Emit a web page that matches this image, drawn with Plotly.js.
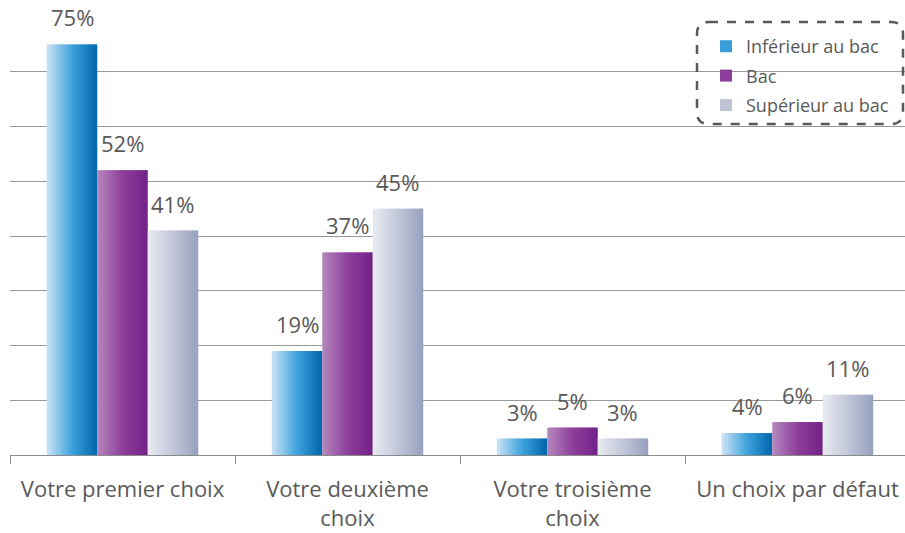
<!DOCTYPE html>
<html><head><meta charset="utf-8">
<script src="https://cdn.plot.ly/plotly-3.0.1.min.js"></script>
<style>html,body{margin:0;padding:0;overflow:hidden;background:#fff}</style>
</head><body><div id="chart"></div>
<script>
const categories = ["Votre premier choix", "Votre deuxième<br>choix", "Votre troisième<br>choix", "Un choix par défaut"];
const seriesNames = ["Inférieur au bac", "Bac", "Supérieur au bac"];
const inferieur = [75, 19, 3, 4];
const bac = [52, 37, 5, 6];
const superieur = [41, 45, 3, 11];
const seriesValues = [inferieur, bac, superieur];

const gradients = [
  ["#cde3f5", "#3da3dd", "#0066ad"],
  ["#b688bd", "#8d3f9b", "#722288"],
  ["#e9ebf2", "#c2c7d9", "#96a0bd"]
];
function hex(c){return [1,3,5].map(i=>parseInt(c.substr(i,2),16));}
function mix(stops,t){
  const s = t<0.5?[stops[0],stops[1],t*2]:[stops[1],stops[2],(t-0.5)*2];
  const a=hex(s[0]), b=hex(s[1]);
  return "rgb("+a.map((v,i)=>Math.round(v+(b[i]-v)*s[2])).join(",")+")";
}

const N = 16;
const barW = 0.2244;
const step = barW/N;
const groupStart = -1.5*barW;
const traces = [];
const annotations = [];
seriesValues.forEach((vals, k) => {
  const off = groupStart + k*barW;
  for (let j=0;j<N;j++){
    traces.push({
      type:"bar", x:categories, y:vals,
      offset: off + j*step, width: j===N-1 ? step : step*1.8,
      marker:{color: mix(gradients[k], (j+0.5)/N), line:{width:0}},
      name: seriesNames[k], legendgroup: "g"+k,
      showlegend: j===Math.floor(N/2), hoverinfo:"skip"
    });
  }
  vals.forEach((v,i)=>{
    annotations.push({
      xref:"x", yref:"y", x: i + off + barW/2, y: v,
      text: v + "%", showarrow:false, yanchor:"bottom", yshift: 10,
      font:{family:"Open Sans", size:22, color:"#595959"}
    });
  });
});

const W = 910;
const plotL = 10, plotR = 0, plotT = 17, plotB = 78;
const pw = W - plotL - plotR, ph = 533 - plotT - plotB;
function px(x){return (x-plotL)/pw;}
function py(y){return (533-plotB-y)/ph;}
const bx0=px(697), bx1=px(903), by0=py(124), by1=py(22);
const rx=12/pw, ry=12/ph;
const boxPath = `M ${bx0+rx},${by1} L ${bx1-rx},${by1} Q ${bx1},${by1} ${bx1},${by1-ry} L ${bx1},${by0+ry} Q ${bx1},${by0} ${bx1-rx},${by0} L ${bx0+rx},${by0} Q ${bx0},${by0} ${bx0},${by0+ry} L ${bx0},${by1-ry} Q ${bx0},${by1} ${bx0+rx},${by1} Z`;

const layout = {
  width: W, height: 533,
  margin:{l:plotL, r:plotR, t:plotT, b:plotB, pad:0},
  barmode:"overlay",
  paper_bgcolor:"#fff", plot_bgcolor:"#fff",
  font:{family:"Open Sans", color:"#595959"},
  xaxis:{type:"category", range:[-0.5,3.5], tickson:"boundaries", ticks:"outside", ticklen:8,
    tickcolor:"#8a8a8a", showline:true, linecolor:"#8a8a8a", linewidth:1, showgrid:false,
    ticklabelstandoff:15,
    tickfont:{family:"Open Sans", size:22, color:"#595959"}, fixedrange:true},
  yaxis:{range:[0,80], dtick:10, showticklabels:false, gridcolor:"#9a9a9a", gridwidth:1,
    zeroline:false, showline:false, fixedrange:true},
  legend:{x:px(706), y:py(28), xanchor:"left", yanchor:"top", bgcolor:"rgba(0,0,0,0)",
    font:{family:"Open Sans", size:18, color:"#595959"}, itemwidth:30, tracegroupgap:3},
  shapes:[{type:"path", xref:"paper", yref:"paper", path: boxPath,
    line:{color:"#595959", width:2.5, dash:"dash"}, fillcolor:"rgba(0,0,0,0)"}],
  annotations: annotations,
  showlegend:true
};
Plotly.newPlot("chart", traces, layout, {displayModeBar:false, staticPlot:true});
</script></body></html>
